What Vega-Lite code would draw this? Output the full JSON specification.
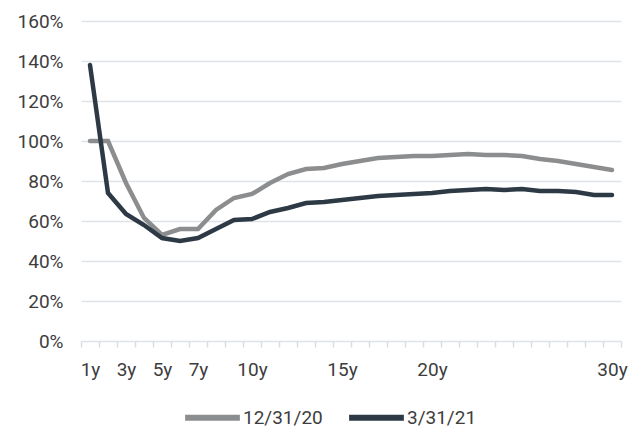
{
  "$schema": "https://vega.github.io/schema/vega-lite/v6.json",
  "width": 540,
  "height": 320,
  "autosize": "none",
  "padding": {"left": 81, "top": 21, "right": 10, "bottom": 93},
  "config": {"font": "Roboto", "view": {"stroke": null}, "axis": {"labelColor": "#3d3d3d", "labelFont": "Roboto"}, "legend": {"labelColor": "#3d3d3d"}},
  "data": {
    "values": [
      {"year": 1, "series": "12/31/20", "value": 100},
      {"year": 2, "series": "12/31/20", "value": 100},
      {"year": 3, "series": "12/31/20", "value": 79},
      {"year": 4, "series": "12/31/20", "value": 61.5},
      {"year": 5, "series": "12/31/20", "value": 53},
      {"year": 6, "series": "12/31/20", "value": 56},
      {"year": 7, "series": "12/31/20", "value": 56},
      {"year": 8, "series": "12/31/20", "value": 65.5},
      {"year": 9, "series": "12/31/20", "value": 71.5},
      {"year": 10, "series": "12/31/20", "value": 73.5},
      {"year": 11, "series": "12/31/20", "value": 79},
      {"year": 12, "series": "12/31/20", "value": 83.5},
      {"year": 13, "series": "12/31/20", "value": 86},
      {"year": 14, "series": "12/31/20", "value": 86.5},
      {"year": 15, "series": "12/31/20", "value": 88.5},
      {"year": 16, "series": "12/31/20", "value": 90},
      {"year": 17, "series": "12/31/20", "value": 91.5},
      {"year": 18, "series": "12/31/20", "value": 92},
      {"year": 19, "series": "12/31/20", "value": 92.5},
      {"year": 20, "series": "12/31/20", "value": 92.5},
      {"year": 21, "series": "12/31/20", "value": 93},
      {"year": 22, "series": "12/31/20", "value": 93.5},
      {"year": 23, "series": "12/31/20", "value": 93},
      {"year": 24, "series": "12/31/20", "value": 93},
      {"year": 25, "series": "12/31/20", "value": 92.5},
      {"year": 26, "series": "12/31/20", "value": 91},
      {"year": 27, "series": "12/31/20", "value": 90},
      {"year": 28, "series": "12/31/20", "value": 88.5},
      {"year": 29, "series": "12/31/20", "value": 87},
      {"year": 30, "series": "12/31/20", "value": 85.5},
      {"year": 1, "series": "3/31/21", "value": 138},
      {"year": 2, "series": "3/31/21", "value": 74},
      {"year": 3, "series": "3/31/21", "value": 63.5},
      {"year": 4, "series": "3/31/21", "value": 58},
      {"year": 5, "series": "3/31/21", "value": 51.5},
      {"year": 6, "series": "3/31/21", "value": 50},
      {"year": 7, "series": "3/31/21", "value": 51.5},
      {"year": 8, "series": "3/31/21", "value": 56},
      {"year": 9, "series": "3/31/21", "value": 60.5},
      {"year": 10, "series": "3/31/21", "value": 61},
      {"year": 11, "series": "3/31/21", "value": 64.5},
      {"year": 12, "series": "3/31/21", "value": 66.5},
      {"year": 13, "series": "3/31/21", "value": 69},
      {"year": 14, "series": "3/31/21", "value": 69.5},
      {"year": 15, "series": "3/31/21", "value": 70.5},
      {"year": 16, "series": "3/31/21", "value": 71.5},
      {"year": 17, "series": "3/31/21", "value": 72.5},
      {"year": 18, "series": "3/31/21", "value": 73},
      {"year": 19, "series": "3/31/21", "value": 73.5},
      {"year": 20, "series": "3/31/21", "value": 74},
      {"year": 21, "series": "3/31/21", "value": 75},
      {"year": 22, "series": "3/31/21", "value": 75.5},
      {"year": 23, "series": "3/31/21", "value": 76},
      {"year": 24, "series": "3/31/21", "value": 75.5},
      {"year": 25, "series": "3/31/21", "value": 76},
      {"year": 26, "series": "3/31/21", "value": 75},
      {"year": 27, "series": "3/31/21", "value": 75},
      {"year": 28, "series": "3/31/21", "value": 74.5},
      {"year": 29, "series": "3/31/21", "value": 73},
      {"year": 30, "series": "3/31/21", "value": 73}
    ]
  },
  "mark": {"type": "line", "strokeWidth": 4.5, "strokeCap": "round"},
  "encoding": {
    "x": {"field": "year", "type": "ordinal", "bandPosition": 0.5,
      "scale": {"type": "band", "paddingInner": 0, "paddingOuter": 0},
      "axis": {"orient": "bottom", "title": null, "domain": false, "ticks": true, "tickBand": "extent", "tickSize": 6, "tickColor": "#d9dde2", "tickWidth": 1.5, "labelAngle": 0, "labelFontSize": 19, "labelPadding": 13, "labelOverlap": false,
        "labelExpr": "indexof([1,3,5,7,10,15,20,30], datum.value) >= 0 ? datum.value + 'y' : ''"}},
    "y": {"field": "value", "type": "quantitative",
      "scale": {"domain": [0, 160]},
      "axis": {"title": null, "values": [0, 20, 40, 60, 80, 100, 120, 140, 160], "labelExpr": "datum.value + '%'", "labelOverlap": false, "domain": false, "ticks": false, "gridColor": "#dfe3e8", "gridWidth": 1.5, "labelFontSize": 19, "labelPadding": 18}},
    "color": {"field": "series", "type": "nominal",
      "scale": {"domain": ["12/31/20", "3/31/21"], "range": ["#8c8d8e", "#2d3a45"]},
      "legend": {"orient": "none", "legendX": 101, "legendY": 366, "direction": "horizontal", "title": null, "symbolType": "stroke", "symbolStrokeWidth": 6, "symbolSize": 3000, "labelFontSize": 19, "labelOffset": 0, "columnPadding": 14}}
  }
}
